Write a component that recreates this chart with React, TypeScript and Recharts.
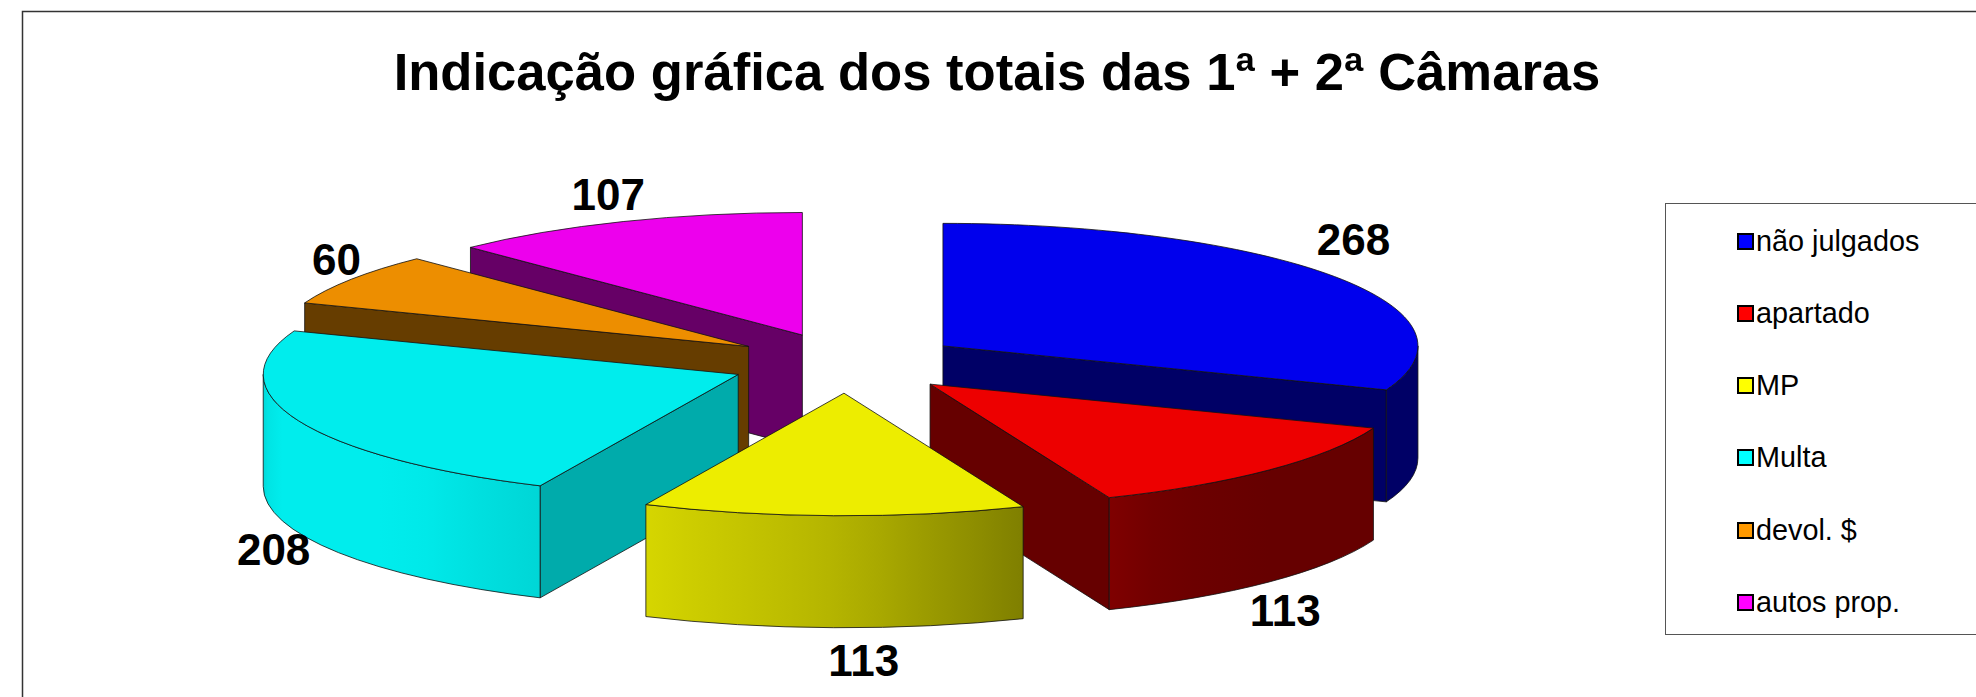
import React from "react";
import { PieChart, Pie, Legend } from "recharts";

const categories = ["não julgados", "apartado", "MP", "Multa", "devol. $", "autos prop."];
const totals = [268, 113, 113, 208, 60, 107];
const colors = ["#0000FF", "#FF0000", "#FFFF00", "#00FFFF", "#FF9900", "#FF00FF"];
const chartTitle = "Indicação gráfica dos totais das 1ª + 2ª Câmaras";

const table = categories.map((name, i) => ({ name, value: totals[i] }));
const drawOrder = [5, 4, 0, 3, 1, 2];

const W = 1976, H = 697;
const CX = 846.5, CY = 363, RX = 475, TILT = 0.258, DEPTH = 112, EXPLODE = 117;
const FONT = "'Liberation Sans', Arial, sans-serif";
const labelNudges = [[19, -37], [16, 29], [30, 33], [-25, 17], [-15, -20], [-15, -27]];

const rimLight: [number, number][] = [[90, .4], [111, .4], [135, .4], [150, .43], [158, .5], [180, .7], [205, .84], [225, .93], [255, .93], [270, .85]];
function lightAt(t: number) {
  for (let i = 1; i < rimLight.length; i++) {
    const [a, la] = rimLight[i - 1], [b, lb] = rimLight[i];
    if (t <= b) return la + (lb - la) * (t - a) / (b - a);
  }
  return .85;
}
function shade(hex: string, k: number) {
  const n = parseInt(hex.slice(1), 16);
  const c = [(n >> 16) & 255, (n >> 8) & 255, n & 255].map((v) => Math.round(v * k));
  return `rgb(${c[0]},${c[1]},${c[2]})`;
}
const rad = (d: number) => (d * Math.PI) / 180;

function Slice3D({ order, ...p }: any) {
  const idx = categories.indexOf(p.name);
  if (idx !== order) return null;
  const a0 = 90 - p.startAngle, a1 = 90 - p.endAngle, mid = (a0 + a1) / 2;
  const rx = p.outerRadius, ry = rx * TILT, d = rx * (EXPLODE / RX);
  const ax = p.cx + d * Math.sin(rad(mid)), ay = p.cy - d * TILT * Math.cos(rad(mid));
  const pt = (t: number, dz = 0): [number, number] => [ax + rx * Math.sin(rad(t)), ay - ry * Math.cos(rad(t)) + dz];
  const f = (q: [number, number]) => `${q[0].toFixed(2)} ${q[1].toFixed(2)}`;
  const arc = (from: number, to: number, dz = 0, sweep = 1) =>
    `A ${rx} ${ry} 0 ${Math.abs(to - from) > 180 ? 1 : 0} ${sweep} ${f(pt(to, dz))}`;
  const color = colors[idx];
  const line = { stroke: "#111", strokeWidth: 1, strokeOpacity: 0.8, strokeLinejoin: "round" as const };
  const face = (t: number, k: number) => (
    <path d={`M ${ax} ${ay} L ${f(pt(t))} L ${f(pt(t, DEPTH))} L ${ax} ${ay + DEPTH} Z`} fill={shade(color, k)} {...line} />
  );
  const r0 = Math.max(a0, 90), r1 = Math.min(a1, 270);
  const hasRim = r1 > r0;
  const gid = `rim-${idx}`;
  // Sweep from r1 to r0 so that x grows with the gradient offset.
  const stops = hasRim ? Array.from({ length: 9 }, (_, i) => r1 - ((r1 - r0) * i) / 8) : [];
  const xs = stops.map((t) => pt(t)[0]);
  const x0 = xs[0], x1 = xs[xs.length - 1];
  return (
    <g>
      {hasRim && (
        <defs>
          <linearGradient id={gid} gradientUnits="userSpaceOnUse" x1={x0} x2={x1} y1={0} y2={0}>
            {stops.map((t, i) => (
              <stop key={i} offset={(xs[i] - x0) / (x1 - x0)} stopColor={shade(color, lightAt(t))} />
            ))}
          </linearGradient>
        </defs>
      )}
      {a0 > 180 && face(a0, a0 < 225 ? 0.67 : 0.4)}
      {a1 < 180 && face(a1, 0.4)}
      {hasRim && (
        <path
          d={`M ${f(pt(r0))} ${arc(r0, r1)} L ${f(pt(r1, DEPTH))} ${arc(r1, r0, DEPTH, 0)} Z`}
          fill={`url(#${gid})`}
          {...line}
        />
      )}
      <path d={`M ${ax} ${ay} L ${f(pt(a0))} ${arc(a0, a1)} Z`} fill={shade(color, 0.93)} {...line} />
    </g>
  );
}

function SliceLabel(p: any) {
  const idx = categories.indexOf(p.name);
  const t = p.midAngle !== undefined ? 90 - p.midAngle : 0;
  const rx = p.outerRadius, ry = rx * TILT, d = rx * (EXPLODE / RX);
  const s = Math.sin(rad(t)), c = Math.cos(rad(t));
  const x = p.cx + (d + rx) * s + labelNudges[idx][0];
  const y = p.cy - (d * TILT + ry) * c + (c < 0 ? DEPTH : 0) + labelNudges[idx][1];
  return (
    <text x={x} y={y} textAnchor="middle" dominantBaseline="central" fontFamily={FONT} fontWeight="bold" fontSize={44} fill="#000">
      {totals[idx]}
    </text>
  );
}

function LegendBox() {
  return (
    <div style={{ boxSizing: "border-box", width: 330, height: 432, border: "1px solid #555", position: "relative", background: "#fff" }}>
      {categories.map((name, i) => (
        <div key={name} style={{ position: "absolute", left: 71, top: 19 + i * 72.3, height: 36, display: "flex", alignItems: "center", fontFamily: FONT, fontSize: 28.8, color: "#000", whiteSpace: "nowrap" }}>
          <span style={{ display: "inline-block", boxSizing: "border-box", width: 17, height: 17, border: "2px solid #000", background: colors[i], marginRight: 2 }} />
          {name}
        </div>
      ))}
    </div>
  );
}

export default function App() {
  return (
    <div style={{ position: "absolute", left: 0, top: 0, width: W, height: H, overflow: "hidden", background: "#fff" }}>
      <PieChart width={W} height={H} margin={{ top: 0, right: 0, bottom: 0, left: 0 }}>
        <path d={`M 22.5 ${H} V 11.5 H ${W}`} fill="none" stroke="#333" strokeWidth={1.5} />
        <text x={997} y={90} textAnchor="middle" fontFamily={FONT} fontWeight="bold" fontSize={52.6} fill="#000">
          {chartTitle}
        </text>
        {drawOrder.map((order, i) => (
          <Pie
            key={order}
            data={table}
            dataKey="value"
            nameKey="name"
            cx={CX}
            cy={CY}
            innerRadius={0}
            outerRadius={RX}
            startAngle={90}
            endAngle={-270}
            stroke="none"
            isAnimationActive={false}
            legendType="none"
            labelLine={false}
            label={i === drawOrder.length - 1 ? SliceLabel : false}
            shape={(p: any) => <Slice3D {...p} order={order} />}
          />
        ))}
        <Legend
          layout="vertical"
          align="right"
          verticalAlign="top"
          wrapperStyle={{ left: 1665, top: 203, width: 330, height: 432, right: "auto" }}
          content={() => <LegendBox />}
        />
      </PieChart>
    </div>
  );
}
